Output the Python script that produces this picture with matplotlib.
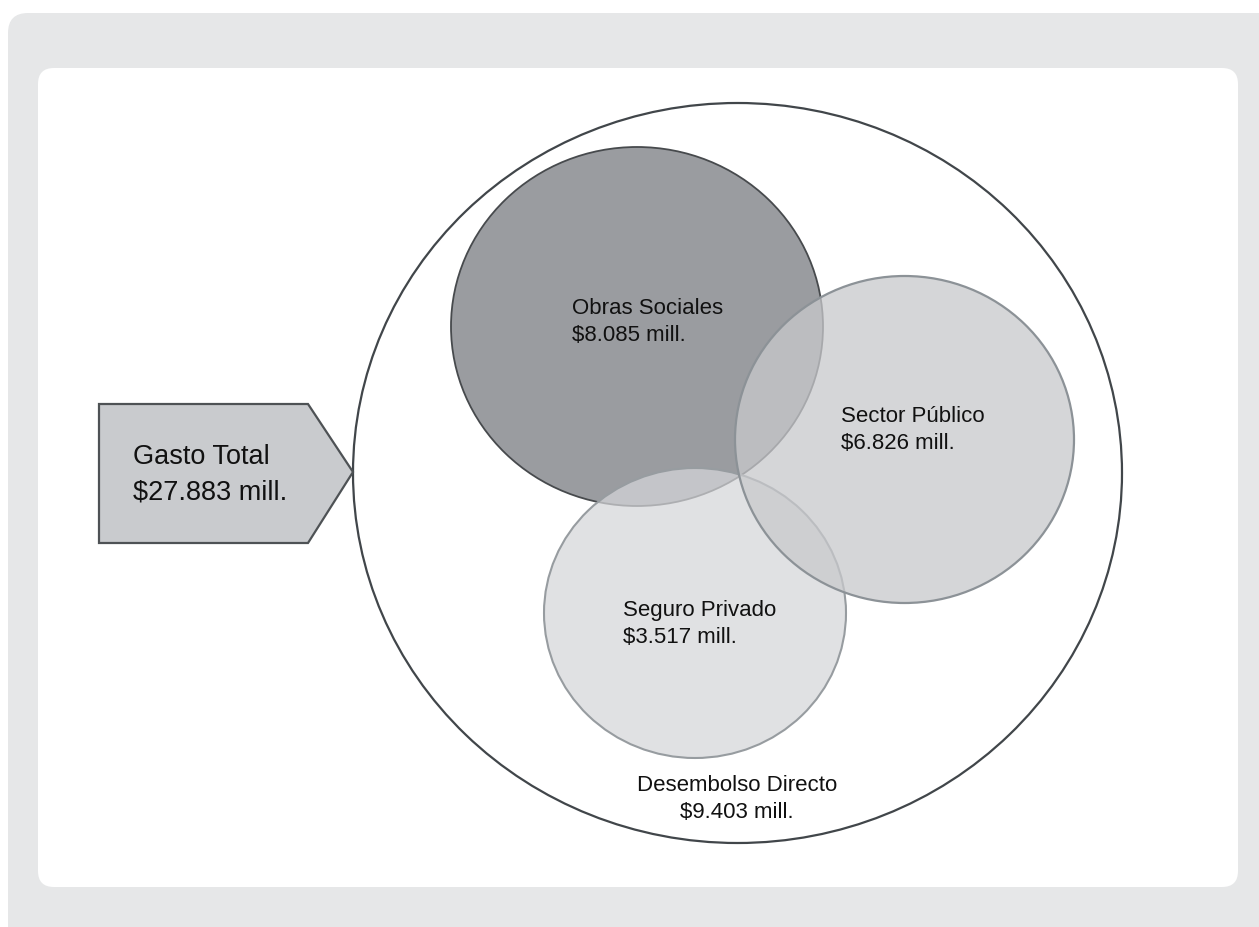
import matplotlib
matplotlib.use("Agg")
import matplotlib.pyplot as plt
from matplotlib.patches import Ellipse, FancyBboxPatch, Polygon

# ---- data ----
total_label = "Gasto Total"
total_value = "27.883"
categories = ["Obras Sociales", "Sector Público", "Seguro Privado"]
values = ["8.085", "6.826", "3.517"]
outer_label = "Desembolso Directo"
outer_value = "9.403"

# ---- layout (pixel coordinates) ----
W, H = 1259, 927
fig = plt.figure(figsize=(W / 100, H / 100), dpi=100)
ax = fig.add_axes([0, 0, 1, 1])
ax.set_xlim(0, W)
ax.set_ylim(H, 0)
ax.axis("off")
fig.patch.set_facecolor("white")

FONT = ["Liberation Sans", "DejaVu Sans"]

# backgrounds
ax.add_patch(FancyBboxPatch((8, 13), 1290, 950,
                            boxstyle="round,pad=0,rounding_size=20",
                            facecolor="#e6e7e8", edgecolor="none", zorder=0))
ax.add_patch(FancyBboxPatch((38, 68), 1200, 819,
                            boxstyle="round,pad=0,rounding_size=16",
                            facecolor="white", edgecolor="none", zorder=1))

# outer big circle
ax.add_patch(Ellipse((737.5, 473), 769, 740, facecolor="white",
                     edgecolor="#41464a", linewidth=1.6, zorder=2))

# sub-circles: (center, width, height, face, alpha, edge, lw, zorder)
circle_styles = [
    ((637, 326.5), 372, 359, "#9a9ca0", 1.0, "#474a4d", 1.3, 3),
    ((904.5, 439.5), 339, 327, "#c8c9cc", 0.75, "#8c9297", 1.6, 5),
    ((695, 613), 302, 290, "#d5d6d9", 0.72, "#979ca0", 1.5, 4),
]
for (c, w, h, fc, a, ec, lw, z) in circle_styles:
    ax.add_patch(Ellipse(c, w, h, facecolor=fc, alpha=a, edgecolor="none", zorder=z))
    ax.add_patch(Ellipse(c, w, h, facecolor="none", edgecolor=ec, linewidth=lw, zorder=z + 0.5))

# arrow pentagon
arrow = Polygon([(99, 404), (308, 404), (353, 472), (308, 543), (99, 543)],
                closed=True, facecolor="#c9cbce", edgecolor="#4e5255",
                linewidth=1.6, zorder=6)
ax.add_patch(arrow)

def two_lines(x, y, l1, l2, size, gap, ha="left"):
    ax.text(x, y, l1, fontsize=size, family=FONT, ha=ha, va="baseline",
            color="#111111", zorder=10)
    ax.text(x, y + gap, l2, fontsize=size, family=FONT, ha=ha, va="baseline",
            color="#111111", zorder=10)

two_lines(133, 464, total_label, f"${total_value} mill.", 19.5, 35)

label_pos = [(572, 314), (841, 422), (623, 616)]
for (x, y), cat, v in zip(label_pos, categories, values):
    two_lines(x, y, cat, f"${v} mill.", 16, 27)

two_lines(737, 791, outer_label, f"${outer_value} mill.", 16, 27, ha="center")

fig.savefig("out.png", dpi=100, facecolor="white")
